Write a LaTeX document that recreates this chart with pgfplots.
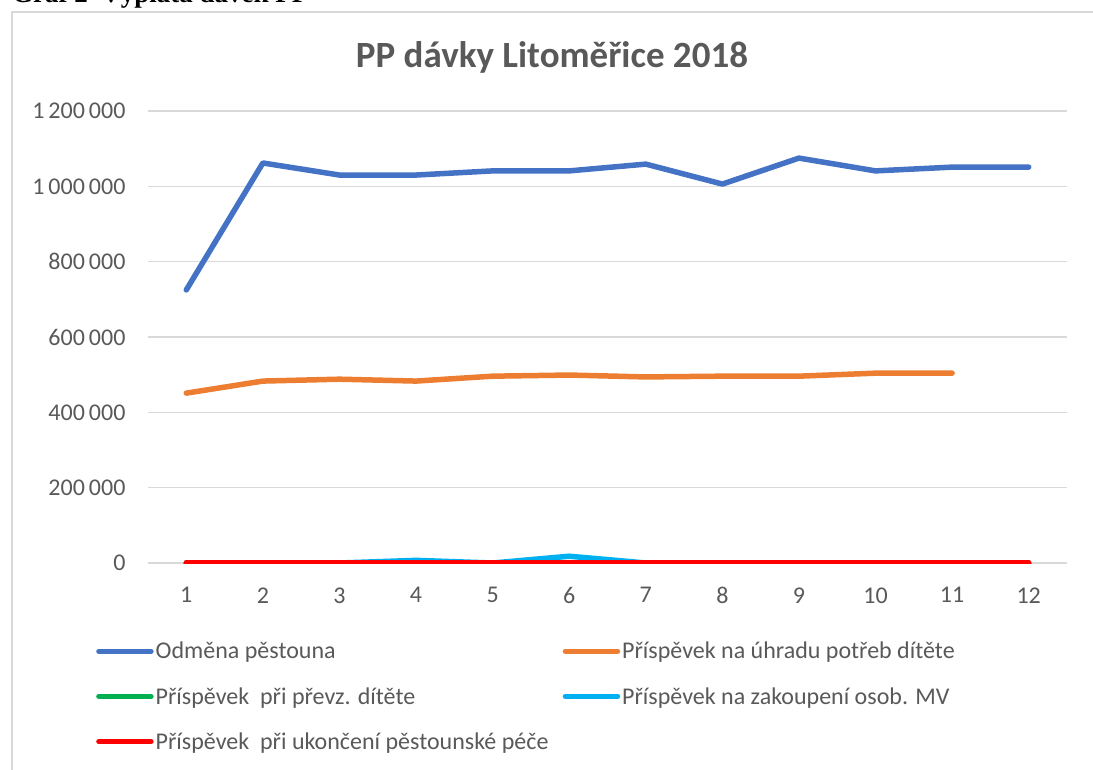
\documentclass[border=0pt]{standalone}
\usepackage{pgfplots}
\pgfplotsset{compat=1.18}
\usepackage{fontspec}
\setmainfont{Carlito}
\newfontfamily\timesfont{Liberation Serif}
\definecolor{cblue}{HTML}{4472C4}
\definecolor{corange}{HTML}{ED7D31}
\definecolor{cgreen}{HTML}{00B050}
\definecolor{ccyan}{HTML}{00B0F0}
\definecolor{cred}{HTML}{FF0000}
\definecolor{gridgray}{HTML}{D9D9D9}
\definecolor{textgray}{HTML}{595959}
\begin{document}
\begin{tikzpicture}[x=1pt,y=1pt]
\path[use as bounding box] (0,0) rectangle (1093,-770);
\draw[gridgray, line width=2pt] (12,-800) -- (12,-12) -- (1110,-12);
\node[anchor=base west, inner sep=0pt, font=\timesfont\bfseries\fontsize{27}{30}\selectfont] at (12,-3) {Graf 2 \ Výplata dávek PP};
\node[font=\bfseries\fontsize{37}{42}\selectfont, text=textgray] at (552,-57) {PP dávky Litoměřice 2018};
\begin{axis}[
  at={(148pt,-563pt)}, anchor=south west,
  scale only axis, width=919pt, height=452pt,
  xmin=0.5, xmax=12.5, ymin=0, ymax=1200000,
  scaled y ticks=false,
  axis line style={draw=none},
  tick style={draw=none},
  xtick={1,...,12},
  ytick={0,200000,400000,600000,800000,1000000,1200000},
  yticklabels={0,200\,000,400\,000,600\,000,800\,000,1\,000\,000,1\,200\,000},
  ymajorgrids,
  grid style={gridgray, line width=1.5pt},
  /pgf/number format/assume math mode=true,
  tick label style={font=\fontsize{24}{28}\selectfont, text=textgray},
  yticklabel style={xshift=-19pt},
  xticklabel style={yshift=-21pt},
  every axis plot/.append style={line width=5.5pt, line join=round, line cap=round},
  legend columns=2,
  legend cell align=left,
  legend style={at={(axis description cs:0,0)}, anchor=north west, xshift=-52pt, yshift=-77pt,
    draw=none, fill=none, font=\fontsize{24}{28}\selectfont, text=textgray,
    row sep=23pt, inner sep=0pt,
    nodes={inner sep=2pt}},
  legend image code/.code={\draw[#1, line cap=round] (0pt,0pt) -- (52pt,0pt);},
]
\addplot[cblue] coordinates {(1,725000)(2,1062000)(3,1030000)(4,1030000)(5,1041000)(6,1041000)(7,1059000)(8,1006000)(9,1075000)(10,1041000)(11,1051000)(12,1051000)};
\addlegendentry{\makebox[405pt][l]{Odměna pěstouna}}
\addplot[corange] coordinates {(1,451000)(2,483000)(3,488000)(4,483000)(5,496000)(6,499000)(7,494000)(8,496000)(9,496000)(10,504000)(11,504000)};
\addlegendentry{Příspěvek na úhradu potřeb dítěte}
\addplot[cgreen] coordinates {(1,0)(2,0)(3,0)(4,0)(5,0)(6,0)(7,0)(8,0)(9,0)(10,0)(11,0)(12,0)};
\addlegendentry{\makebox[405pt][l]{Příspěvek \ při převz. dítěte}}
\addplot[ccyan] coordinates {(1,0)(2,0)(3,0)(4,7000)(5,0)(6,18000)(7,0)(8,0)(9,0)(10,0)(11,0)(12,0)};
\addlegendentry{Příspěvek na zakoupení osob. MV}
\addplot[cred] coordinates {(1,0)(2,0)(3,0)(4,0)(5,0)(6,0)(7,0)(8,0)(9,0)(10,0)(11,0)(12,0)};
\addlegendentry{Příspěvek \ při ukončení pěstounské péče}
\end{axis}
\end{tikzpicture}
\end{document}
